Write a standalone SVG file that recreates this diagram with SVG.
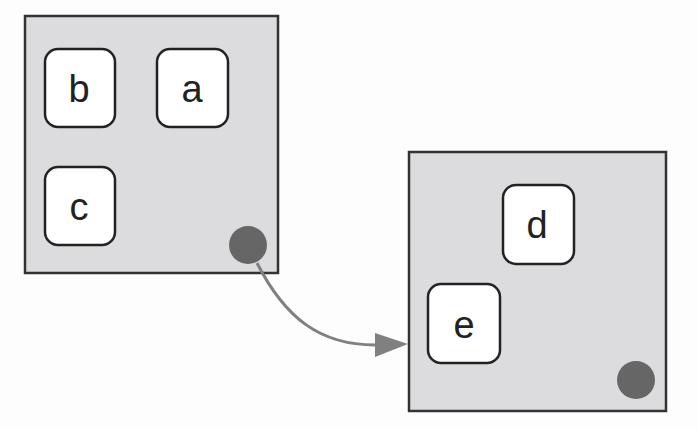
<svg xmlns="http://www.w3.org/2000/svg" width="698" height="429" viewBox="0 0 698 429">
<style>
.box{fill:#dcdcde;stroke:#333;stroke-width:2.5}
.node{fill:#fff;stroke:#222;stroke-width:2.5}
.lbl{font-family:"Liberation Sans",Arial,sans-serif;font-size:38px;fill:#222;text-anchor:middle}
.port{fill:#666}
.edge{fill:none;stroke:#808080;stroke-width:3}
</style>
<rect width="698" height="429" fill="#fdfdfd"/>
<g id="group1">
<rect class="box" x="25" y="16" width="253" height="257"/>
<circle class="port" cx="248" cy="245" r="19"/>
</g>
<g id="group2">
<rect class="box" x="409" y="152" width="257" height="259"/>
<circle class="port" cx="636" cy="380" r="19"/>
</g>
<g id="b"><rect class="node" x="45" y="49" width="70" height="78" rx="13"/><text class="lbl" x="79" y="102">b</text></g>
<g id="a"><rect class="node" x="157" y="49" width="71" height="78" rx="13"/><text class="lbl" x="192" y="102">a</text></g>
<g id="c"><rect class="node" x="45" y="167" width="70" height="78" rx="13"/><text class="lbl" x="79" y="220">c</text></g>
<g id="d"><rect class="node" x="503" y="185" width="71" height="79" rx="13"/><text class="lbl" x="537" y="238">d</text></g>
<g id="e"><rect class="node" x="428" y="284" width="72" height="79" rx="13"/><text class="lbl" x="464" y="338">e</text></g>
<g id="connectors">
<path class="edge" d="M257,263 C285,318 320,345 375,345" />
<path d="M375,333 L408,344 L375,357 z" fill="#808080"/>
</g>
</svg>
